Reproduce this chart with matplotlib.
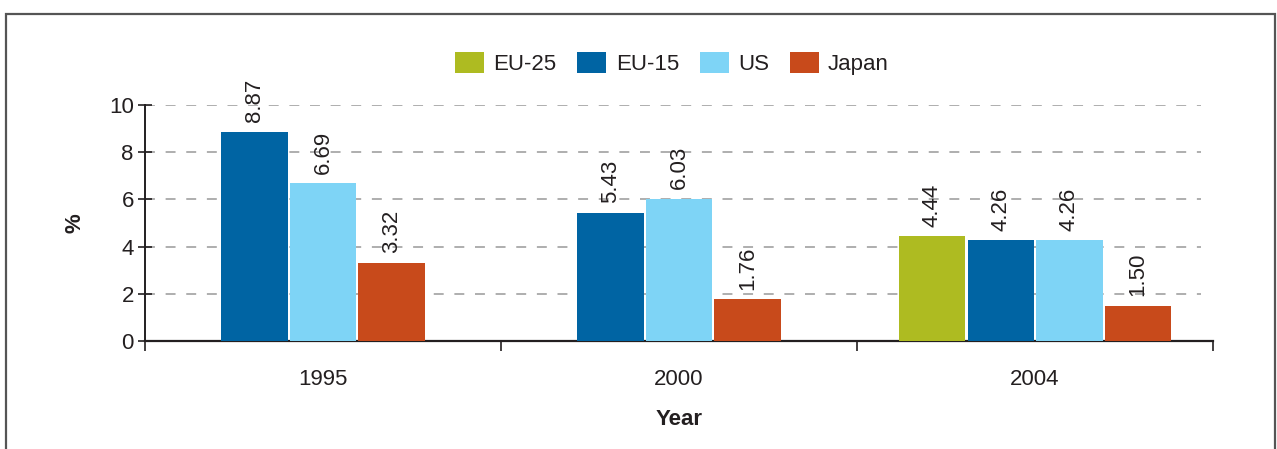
import numpy as np
import matplotlib.pyplot as plt
from matplotlib.patches import Rectangle

plt.rcParams['font.family'] = ['Liberation Sans', 'DejaVu Sans']

years = ['1995', '2000', '2004']
series = ['EU-25', 'EU-15', 'US', 'Japan']
eu25 = [np.nan, np.nan, 4.44]
eu15 = [8.87, 5.43, 4.26]
us = [6.69, 6.03, 4.26]
japan = [3.32, 1.76, 1.50]
colors = ['#aebb21', '#0064a3', '#7ed4f6', '#c84a1b']
yticks = [0, 2, 4, 6, 8, 10]

FS = 16
TXT = '#231f20'

fig = plt.figure(figsize=(12.77, 4.49), dpi=100)
ax = fig.add_axes([0.1135, 0.2405, 0.8365, 0.526])

# outer frame, open at the bottom
fig.patches.append(Rectangle((0.0047, -0.2), 0.994, 1.1688, transform=fig.transFigure,
                             fill=False, edgecolor='#555555', lw=1.6))

data = np.array([eu25, eu15, us, japan])
slot = 0.1925
w = 0.186
# bars in each year are centred on the year, skipping missing series
pos = np.full(data.shape, np.nan)
for i in range(len(years)):
    present = [k for k in range(len(series)) if not np.isnan(data[k, i])]
    for j, k in enumerate(present):
        pos[k, i] = i + (j - (len(present) - 1) / 2) * slot

for k, (name, c) in enumerate(zip(series, colors)):
    ok = ~np.isnan(data[k])
    ax.bar(pos[k][ok], data[k][ok], w, color=c, label=name, zorder=3)
    for xp, v in zip(pos[k][ok], data[k][ok]):
        ax.text(xp, v + 0.4, f'{v:.2f}', rotation=90, ha='center', va='bottom',
                fontsize=FS, color=TXT, zorder=4)

ax.set_xlim(-0.5, 2.5)
ax.set_ylim(0, 10)
ax.hlines(yticks[1:], -0.5, 2.465, colors='#999999', linestyles=(0, (6.5, 7)), lw=1.1, zorder=1)

ax.set_yticks(yticks)
ax.set_xticks([-0.5, 0.5, 1.5, 2.5])
ax.set_xticklabels([])
ax.set_xticks(np.arange(len(years)), minor=True)
ax.set_xticklabels(years, minor=True)
ax.tick_params(axis='x', which='minor', length=0, pad=20, labelsize=FS, labelcolor=TXT)
ax.tick_params(axis='x', which='major', length=7, width=1.2, direction='out', color=TXT)
ax.tick_params(axis='y', length=10, width=1.2, direction='inout', labelsize=FS,
               labelcolor=TXT, color=TXT, pad=3)

for s in ['top', 'right']:
    ax.spines[s].set_visible(False)
ax.spines['left'].set_color(TXT)
ax.spines['left'].set_linewidth(1.4)
ax.spines['bottom'].set_color(TXT)
ax.spines['bottom'].set_linewidth(1.6)

ax.set_ylabel('%', fontsize=FS, fontweight='bold', labelpad=17, color=TXT)
ax.set_xlabel('Year', fontsize=FS, fontweight='bold', labelpad=14, color=TXT)

ax.legend(loc='center', bbox_to_anchor=(0.4935, 1.175), ncol=4, frameon=False, fontsize=FS,
          handlelength=1.3, handleheight=1.12, handletextpad=0.42, columnspacing=0.94,
          labelcolor=TXT)

fig.savefig('out.png', dpi=100)
